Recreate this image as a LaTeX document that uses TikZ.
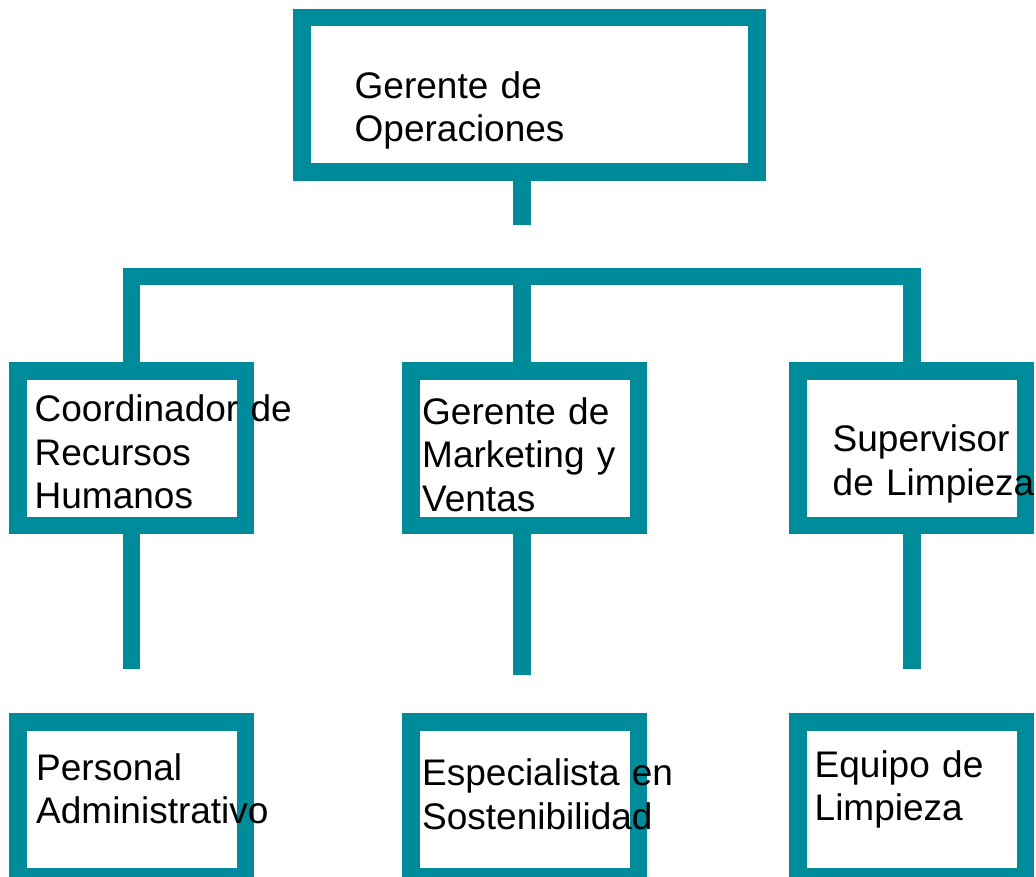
\documentclass[tikz,border=0pt]{standalone}
\usepackage{fontspec}
\setmainfont{Liberation Sans}
\definecolor{tealc}{RGB}{0,139,154}
\begin{document}
\begin{tikzpicture}[x=1pt,y=-1pt,
  orgbox/.style={draw=tealc,line width=17.5pt,minimum width=227.5pt,minimum height=154.5pt,inner sep=0pt},
  conn/.style={draw=tealc,line width=17.5pt,line cap=butt,line join=miter},
  lbl/.style={anchor=base west,inner sep=0pt,text width=400pt,align=left,font=\fontsize{37}{43.5}\selectfont}]
\clip (0,0) rectangle (1036,877);
\fill[white] (0,0) rectangle (1036,877);
% boxes
\node[orgbox,minimum width=454.9pt] (gop) at (529.5,95) {};
\node[orgbox] (crh) at (131.8,448.3) {};
\node[orgbox] (gmv) at (524.5,448.3) {};
\node[orgbox] (sl)  at (911.8,448.3) {};
\node[orgbox] (pa)  at (131.8,799.3) {};
\node[orgbox] (es)  at (524.5,799.3) {};
\node[orgbox] (el)  at (911.8,799.3) {};
% connector points
\coordinate (topend) at (522,225.3);
\coordinate (barL) at (131.7,276.5);
\coordinate (barM) at (522,276.5);
\coordinate (barR) at (912,276.5);
\coordinate (e1) at (131.7,669.3);
\coordinate (e2) at (522,675);
\coordinate (e3) at (912,669.3);
% connectors
\draw[conn] (gop.south -| topend) -- (topend);
\draw[conn] (crh.north -| barL) -- (barL) -- (barR) -- (sl.north -| barR);
\draw[conn] (barM) -- (gmv.north -| barM);
\draw[conn] (crh.south -| e1) -- (e1);
\draw[conn] (gmv.south -| e2) -- (e2);
\draw[conn] (sl.south -| e3) -- (e3);
% texts
\node[lbl] (t0) at (354.5,98.3) {Gerente de\\Operaciones};
\node[lbl] (t1) at (34.5,421.7) {Coordinador de\\Recursos\\Humanos};
\node[lbl] (t2) at (422,424) {Gerente de\\Marketing y\\Ventas};
\node[lbl] (t3) at (832.5,451.7) {Supervisor\\de Limpieza};
\node[lbl] (t4) at (36,780) {Personal\\Administrativo};
\node[lbl] (t5) at (422,785.7) {Especialista en\\Sostenibilidad};
\node[lbl] (t6) at (814.5,777.3) {Equipo de\\Limpieza};
\end{tikzpicture}
\end{document}
